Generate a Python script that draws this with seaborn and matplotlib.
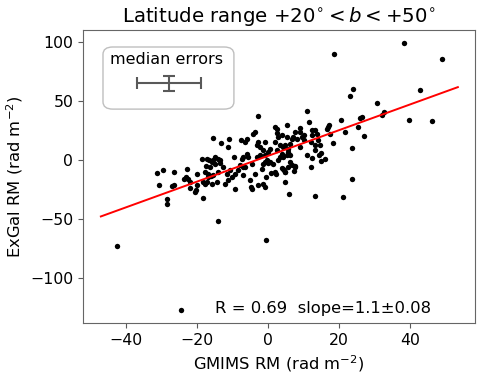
import numpy as np
import pandas as pd
import matplotlib
matplotlib.use("Agg")
import matplotlib.pyplot as plt
from matplotlib.patches import FancyBboxPatch
import seaborn as sns

# ---- data ----
gmims_rm = [38.3, 48.9, 18.7, 42.9, 23.8, 23.1, 30.6, 32.6, 32.2, 39.8, 46.1, 10.9, 11.6, 20.6, 25.9, 26.5,
            25.3, 26.9, 21.7, 17.3, 16.9, 18.4, 23.7, 16.1, 14.9, 14.8, 14.5, 12.4, 12.0, 23.6, 6.0, 13.2,
            21.0, -0.6, 4.9, 7.4, 7.5, 4.5, 4.0, 2.3, 0.8, -0.6, -42.5, -24.5, -14.2, -31.2, -29.5, -30.7,
            -26.5, -27.1, -26.6, -28.5, -28.5, -22.7, -23.7, -23.1, -22.4, -22.0, -22.0, -20.4, -20.5, -19.9,
            -19.9, -18.2, -17.3, -17.7, -17.8, -17.5, -16.8, -16.1, -15.4, -13.1, -10.9, -7.7, -11.4, -15.0,
            -14.0, -15.5, -16.5, -13.5, -9.6, -7.4, -16.3, -14.9, -13.5, -12.6, -15.4, -14.0, -11.6, -10.7,
            -10.2, -9.3, -8.4, -18.2, -15.9, -14.5, -12.1, -11.2, -9.3, -7.1, -2.7, 2.0, 2.4, 5.3, -3.7, -4.2,
            -6.0, -6.5, 2.4, 2.9, 3.9, 5.3, -2.7, -0.8, -3.2, -2.3, -1.3, 0.6, 2.0, 3.4, 4.3, 2.4, 3.9, 5.7,
            6.2, -6.0, -5.5, -7.0, -3.2, -2.3, -0.8, -0.4, 0.6, 1.5, 2.9, 3.4, 4.3, 5.3, -7.9, -6.5, -4.6,
            -1.3, 0.1, 4.3, 5.7, -1.8, -7.0, -3.7, 4.8, -5.1, -4.6, -1.3, -0.8, 9.0, 9.0, 7.6, 7.1, 6.7, 8.1,
            9.5, 10.0, 12.3, 13.2, 13.7, 12.3, 16.5, 17.5, 14.2, 14.6, 13.2, 4.8, 5.7, 6.2, 10.9, 6.2, 6.7,
            -4.9, -2.7, -18.7, -17.3, -16.8, -15.9, 10.0, 12.0, 13.2, 9.0, 0.1, 7.6, 2.0, 4.8, -0.8]
exgal_rm = [99.2, 85.8, 89.8, 59.3, 60.7, 54.8, 48.3, 41.2, 38.1, 34.2, 33.1, 41.6, 32.8, 33.9, 35.8, 36.4,
            28.5, 20.9, 23.7, 29.9, 28.0, 14.7, 10.4, 0.8, -0.8, 5.9, 4.8, 2.0, -5.6, -15.5, -28.8, -29.9,
            -30.8, -67.2, -18.1, -9.1, -4.8, -7.9, -6.8, -11.9, -10.4, -14.1, -72.6, -126.9, -51.4, -10.5,
            -8.5, -20.6, -9.9, -22.0, -21.0, -33.0, -36.7, -7.6, -15.5, -14.1, -15.8, -18.1, -23.7, -25.4,
            -26.8, -11.3, -21.2, -31.9, -18.4, -20.3, -9.9, -4.8, -14.1, -13.6, 18.9, 15.0, 17.8, 16.9, 11.3,
            3.0, 1.0, 0.0, 0.5, 0.0, 2.8, 1.4, -5.6, -2.8, -2.3, -5.6, -12.7, -9.9, -11.3, -8.5, -14.1, -11.3,
            -8.5, -18.4, -19.8, -18.4, -19.8, -16.9, -24.0, -5.6, 37.5, 28.2, 26.8, 29.5, 24.0, 22.0, 18.4,
            15.5, 23.1, 19.7, 21.2, 19.7, 15.5, 15.5, 12.7, 11.3, 8.5, 9.9, 15.5, 12.7, 11.3, 8.5, 5.7, 9.9,
            14.1, 5.7, 2.8, 2.8, 2.8, 4.2, 4.2, 0.0, -1.4, -2.8, 0.0, 2.8, 2.8, 4.2, -4.2, -5.6, -2.8, -2.8,
            -2.3, -7.0, -5.6, -7.0, -12.7, -11.3, -9.9, -16.9, -24.0, -19.8, -22.6, 27.4, 24.0, 24.0, 19.7,
            18.4, 18.4, 19.7, 16.9, 25.4, 25.4, 22.6, 21.2, 26.8, 22.6, 16.9, 12.7, 12.7, 12.7, 7.1, 4.2, 4.2,
            -1.4, -4.2, -22.6, -21.2, 1.4, 1.4, -11.3, -1.4, 21.5, 15.5, 8.5, 11.3, 7.1, -5.6, -9.9, -9.9, -1.4]

fit_slope = 1.09
fit_intercept = 3.7
stats_text = "R = 0.69  slope=1.1\u00b10.08"

err_center = (-27.9, 65.3)
err_x = 8.9
err_y = 6.4

df = pd.DataFrame({"gmims": gmims_rm, "exgal": exgal_rm})

fig = plt.figure(figsize=(4.84, 3.77), dpi=100)
ax = fig.add_axes([83 / 484, 1 - 323 / 377, (475 - 83) / 484, (323 - 30) / 377])

sns.scatterplot(data=df, x="gmims", y="exgal", ax=ax, color="black", s=15, linewidth=0, zorder=3)

xmin, xmax = df["gmims"].min(), df["gmims"].max()
pad = 0.05 * (xmax - xmin)
xl = np.array([xmin - pad, xmax + pad])
ax.plot(xl, fit_slope * xl + fit_intercept, color="red", lw=1.4, zorder=4)

ax.set_xlim(-52.1, 58.3)
ax.set_ylim(-137.9, 110.4)
ax.set_xticks([-40, -20, 0, 20, 40])
ax.set_yticks([-100, -50, 0, 50, 100])
ax.tick_params(labelsize=11.3, color="0.35")
for s in ax.spines.values():
    s.set_color("0.4")

ax.set_xlabel(r"GMIMS RM (rad m$^{-2}$)", fontsize=11.8)
ax.set_ylabel(r"ExGal RM (rad m$^{-2}$)", fontsize=11.8)
ax.set_title(r"Latitude range $+20^{\circ}<b<+50^{\circ}$", fontsize=14.2)

ax.text(0.337, 0.034, stats_text, transform=ax.transAxes, fontsize=11.8, va="baseline", ha="left")

box = FancyBboxPatch((0.051, 0.730), 0.334, 0.212, boxstyle="round,pad=0,rounding_size=0.025",
                     transform=ax.transAxes, facecolor="white", edgecolor="0.75", lw=1, zorder=5)
ax.add_patch(box)
ax.text(0.212, 0.883, "median errors", transform=ax.transAxes, fontsize=11.5, ha="center",
        va="baseline", zorder=6)
ax.errorbar([err_center[0]], [err_center[1]], xerr=[err_x], yerr=[err_y], fmt="none",
            ecolor="0.35", elinewidth=1.5, capsize=4, capthick=1.5, zorder=6)

fig.savefig("out.png", dpi=100)
